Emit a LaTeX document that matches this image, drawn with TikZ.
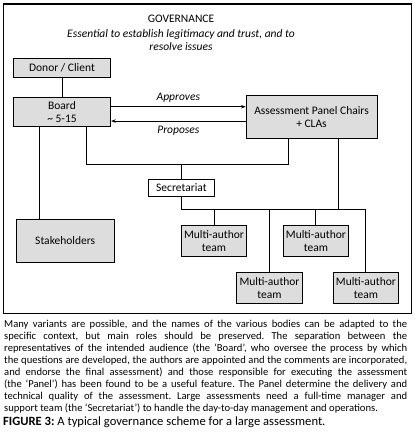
\documentclass[tikz,border=0pt]{standalone}
\usepackage{fontspec}
\setmainfont{Carlito}
\usepackage{xcolor}
\usepackage{tikz}
\usetikzlibrary{positioning,arrows.meta,calc}
\definecolor{boxgrey}{RGB}{221,221,221}
\frenchspacing

\begin{document}
\begin{tikzpicture}[
  x=1pt, y=-1pt,
  every node/.style={font=\fontsize{11.5}{13.5}\selectfont},
  body/.style={draw=black, fill=boxgrey, line width=0.9pt, align=center, inner sep=0pt},
  team/.style={body, minimum width=65.5pt, minimum height=31.5pt},
  link/.style={draw=black, line width=0.9pt},
  tip/.style={-{Stealth[length=4.5pt,width=3.5pt]}}
]
  \useasboundingbox (0,0) rectangle (414,438);
  \draw[line width=1.1pt] (3.5,4) rectangle (411.5,313.5);

  % heading
  \node (title) at (181,19) {GOVERNANCE};
  \node[align=center, font=\fontsize{11.5}{13}\selectfont\itshape] (aim) at (181,40.5)
    {Essential to establish legitimacy and trust, and to\\resolve issues};

  % bodies
  \node[body, minimum width=97.4pt, minimum height=18.5pt] (donor) at (62,68.2) {Donor / Client};
  \node[body, minimum width=97.4pt, minimum height=28.4pt, below=19.4pt of donor] (board)
    {Board\\\textasciitilde{} 5-15};
  \node[body, minimum width=131pt, minimum height=42.3pt] (panel) at (311.5,116.9)
    {Assessment Panel Chairs\\+ CLAs};
  \node[body, fill=white, minimum width=65.3pt, minimum height=17.5pt] (secr) at (181.4,187.8) {Secretariat};
  \node[body, minimum width=98.3pt, minimum height=43pt] (stake) at (65.2,240.8) {Stakeholders};

  \node[team] (ma1) at (214,241) {Multi-author\\team};
  \node[team, right=35.5pt of ma1] (ma2) {Multi-author\\team};
  \node[team] (ma3) at (269.5,288) {Multi-author\\team};
  \node[team, right=30pt of ma3] (ma4) {Multi-author\\team};

  % connectors
  \coordinate (upbus) at (0,164);
  \coordinate (lowbus) at (0,209.3);
  \coordinate (bstake) at ([xshift=27pt]board.south west);
  \coordinate (bpanel) at ([xshift=74pt]board.south west);
  \coordinate (pup) at ([xshift=42.5pt]panel.south west);
  \coordinate (pdown) at ([xshift=93.3pt]panel.south west);

  \draw[link] (donor) -- (board);
  \draw[link] (bstake) -- (bstake |- stake.north);
  \draw[link] (bpanel) |- (pup |- upbus) -- (pup);
  \draw[link] (secr.north) -- (secr.north |- upbus);
  \draw[link] (pdown) -- (pdown |- lowbus);
  \draw[link] (secr.south) |- (ma4.north |- lowbus) -- (ma4.north);
  \foreach \t in {ma1,ma2,ma3}
    \draw[link] (\t.north) -- (\t.north |- lowbus);

  \draw[link, tip] ([yshift=5.2pt]board.east) -- ([yshift=5.2pt]board.east -| panel.west)
    node[midway, above=1pt, font=\fontsize{11.5}{13.5}\selectfont\itshape] {Approves};
  \draw[link, tip] ([yshift=-9.1pt]board.east -| panel.west) -- ([yshift=-9.1pt]board.east)
    node[midway, below=1pt, font=\fontsize{11.5}{13.5}\selectfont\itshape] {Proposes};

  % notes below the frame
  \node[anchor=north west, text width=403pt, align=justify, inner sep=0pt,
        font=\fontsize{10.6}{12.1}\selectfont] (notes) at (4,319.5)
    {Many variants are possible, and the names of the various bodies can be adapted to the\linebreak
     specific context, but main roles should be preserved. The separation between the\linebreak
     representatives of the intended audience (the `Board', who oversee the process by which\linebreak
     the questions are developed, the authors are appointed and the comments are incorporated,\linebreak
     and endorse the final assessment) and those responsible for executing the assessment\linebreak
     (the `Panel') has been found to be a useful feature. The Panel determine the delivery and\linebreak
     technical quality of the assessment. Large assessments need a full-time manager and\linebreak
     support team (the `Secretariat') to handle the day-to-day management and operations.};
  \node[anchor=base west, inner sep=0pt, font=\fontsize{12.6}{14}\selectfont] (caption) at (3,425.5)
    {\textbf{FIGURE 3:} A typical governance scheme for a large assessment.};
\end{tikzpicture}
\end{document}
